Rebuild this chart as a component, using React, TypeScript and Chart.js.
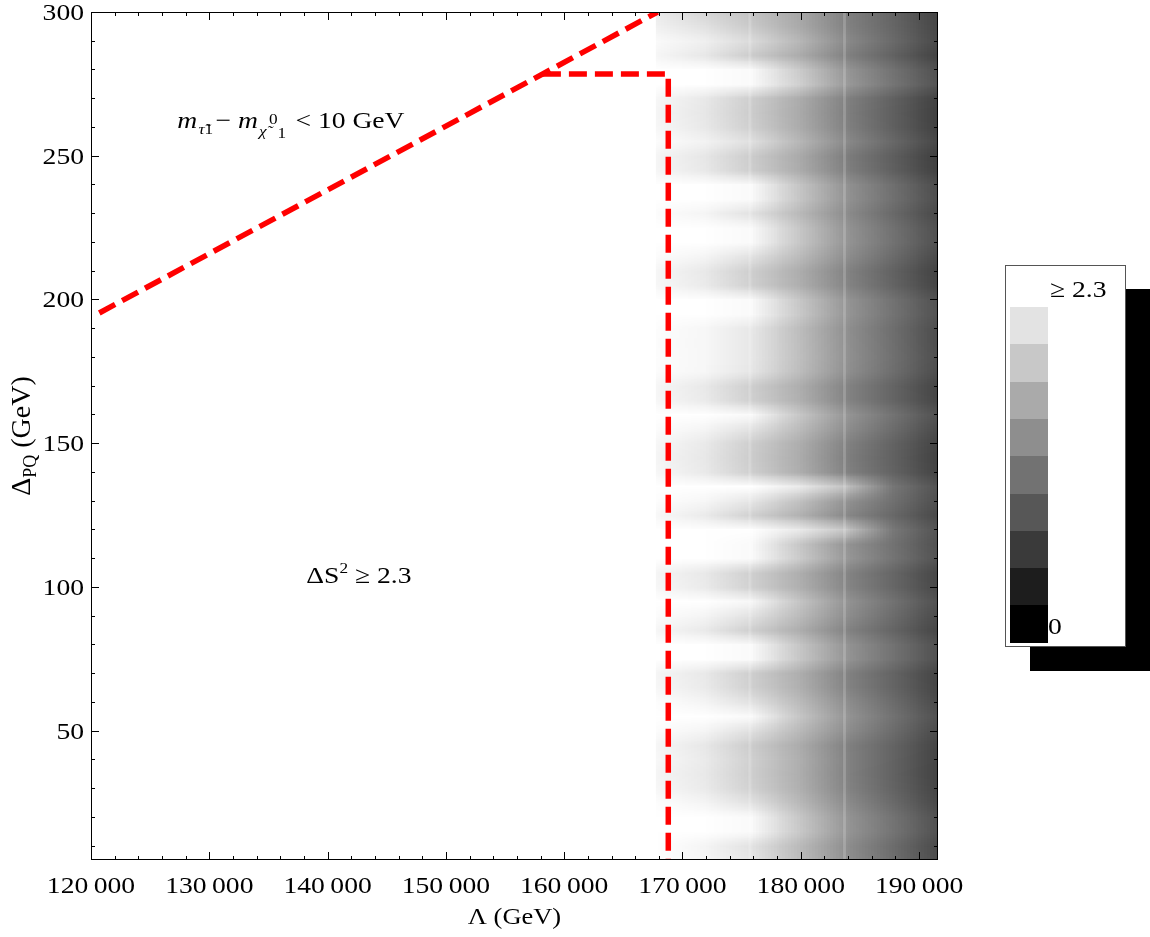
import React, { useEffect, useRef } from 'react';
import { Chart, registerables } from 'chart.js';

Chart.register(...registerables);

const SERIF = '"Liberation Serif", "Times New Roman", serif';
const STRETCH = 1.15;

// Axis ranges and tick labels
const X_MIN = 120000;
const X_MAX = 191600;
const Y_MIN = 5;
const Y_MAX = 300;
const X_TICKS = [120000, 130000, 140000, 150000, 160000, 170000, 180000, 190000];
const Y_TICKS = [50, 100, 150, 200, 250, 300];

// Density grid nodes (Λ, Δ_PQ) and ΔS² values (column by column, Δ_PQ = 5 … 300)
const GRID_X = [167700, 171700, 175700, 179700, 183700, 187700, 191700];
const GRID_Y = [5, 10, 15, 20, 25, 30, 35, 40, 45, 50, 55, 60, 65, 70, 75, 80, 85, 90, 95, 100,
  105, 110, 115, 120, 125, 130, 135, 140, 145, 150, 155, 160, 165, 170, 175, 180, 185, 190, 195, 200,
  205, 210, 215, 220, 225, 230, 235, 240, 245, 250, 255, 260, 265, 270, 275, 280, 285, 290, 295, 300];
const DATA_LEFT = 167750;

const DS2_168 = [2.50, 2.50, 2.50, 2.50, 2.48, 2.42, 2.40, 2.43, 2.41, 2.47, 2.50, 2.48, 2.42, 2.40, 2.50, 2.50, 2.41, 2.47, 2.50, 2.42,
  2.40, 2.50, 2.50, 2.50, 2.43, 2.48, 2.50, 2.42, 2.40, 2.42, 2.47, 2.50, 2.42, 2.41, 2.47, 2.48, 2.47, 2.48, 2.50, 2.50,
  2.42, 2.41, 2.47, 2.50, 2.50, 2.47, 2.50, 2.50, 2.41, 2.40, 2.47, 2.42, 2.40, 2.42, 2.50, 2.50, 2.41, 2.45, 2.36, 2.30];
const DS2_172 = [2.42, 2.40, 2.50, 2.50, 2.40, 2.30, 2.28, 2.30, 2.27, 2.40, 2.50, 2.40, 2.30, 2.28, 2.50, 2.50, 2.29, 2.40, 2.50, 2.30,
  2.28, 2.50, 2.50, 2.50, 2.30, 2.42, 2.50, 2.29, 2.27, 2.29, 2.40, 2.50, 2.30, 2.28, 2.42, 2.42, 2.42, 2.42, 2.50, 2.50,
  2.30, 2.28, 2.40, 2.50, 2.50, 2.40, 2.50, 2.50, 2.28, 2.26, 2.38, 2.28, 2.26, 2.28, 2.50, 2.50, 2.27, 2.35, 2.22, 2.10];
const DS2_176 = [2.25, 2.22, 2.45, 2.45, 2.22, 2.05, 2.02, 2.04, 2.00, 2.20, 2.45, 2.22, 2.04, 2.02, 2.45, 2.45, 2.03, 2.22, 2.42, 2.05,
  2.03, 2.45, 2.45, 2.50, 2.05, 2.25, 2.50, 2.03, 2.00, 2.02, 2.22, 2.45, 2.04, 2.02, 2.25, 2.27, 2.26, 2.27, 2.45, 2.45,
  2.04, 2.02, 2.22, 2.45, 2.45, 2.22, 2.45, 2.45, 2.02, 2.00, 2.20, 2.03, 2.00, 2.02, 2.45, 2.45, 2.00, 2.15, 1.98, 1.90];
const DS2_180 = [1.85, 1.83, 1.98, 1.96, 1.82, 1.74, 1.72, 1.73, 1.70, 1.82, 1.95, 1.84, 1.74, 1.72, 1.96, 1.95, 1.72, 1.84, 1.94, 1.74,
  1.72, 2.00, 1.96, 2.30, 1.75, 1.90, 2.30, 1.72, 1.70, 1.72, 1.84, 1.96, 1.74, 1.72, 1.86, 1.88, 1.87, 1.86, 1.98, 1.96,
  1.73, 1.71, 1.84, 1.96, 1.96, 1.82, 1.95, 1.94, 1.70, 1.68, 1.80, 1.70, 1.68, 1.70, 2.05, 2.00, 1.70, 1.80, 1.68, 1.65];
const DS2_184 = [1.42, 1.40, 1.48, 1.47, 1.38, 1.30, 1.28, 1.29, 1.27, 1.40, 1.47, 1.40, 1.30, 1.28, 1.47, 1.46, 1.29, 1.40, 1.46, 1.32,
  1.30, 1.50, 1.46, 1.95, 1.34, 1.45, 1.90, 1.28, 1.25, 1.28, 1.40, 1.48, 1.30, 1.29, 1.42, 1.44, 1.43, 1.42, 1.48, 1.47,
  1.31, 1.29, 1.40, 1.47, 1.46, 1.38, 1.45, 1.44, 1.26, 1.24, 1.36, 1.27, 1.25, 1.27, 1.52, 1.48, 1.27, 1.36, 1.28, 1.26];
const DS2_188 = [1.08, 1.06, 1.14, 1.13, 1.04, 0.98, 0.96, 0.97, 0.98, 1.06, 1.12, 1.06, 0.99, 0.98, 1.12, 1.12, 0.99, 1.06, 1.12, 1.01,
  1.00, 1.14, 1.12, 1.18, 1.02, 1.10, 1.16, 0.97, 0.95, 0.97, 1.06, 1.13, 0.99, 0.98, 1.08, 1.10, 1.09, 1.08, 1.13, 1.12,
  0.98, 0.96, 1.05, 1.12, 1.11, 1.03, 1.10, 1.09, 0.94, 0.92, 1.02, 0.94, 0.93, 0.95, 1.15, 1.12, 0.96, 1.04, 1.00, 0.98];
const DS2_192 = [0.74, 0.72, 0.78, 0.77, 0.70, 0.66, 0.64, 0.65, 0.66, 0.72, 0.77, 0.72, 0.67, 0.66, 0.77, 0.77, 0.67, 0.72, 0.77, 0.69,
  0.68, 0.79, 0.77, 0.80, 0.70, 0.75, 0.79, 0.65, 0.63, 0.65, 0.72, 0.78, 0.67, 0.66, 0.74, 0.75, 0.74, 0.74, 0.78, 0.77,
  0.66, 0.64, 0.71, 0.77, 0.76, 0.70, 0.75, 0.74, 0.62, 0.60, 0.69, 0.62, 0.61, 0.63, 0.80, 0.77, 0.64, 0.71, 0.68, 0.66];
const DS2_COLUMNS = [DS2_168, DS2_172, DS2_176, DS2_180, DS2_184, DS2_188, DS2_192];

// Red dashed boundaries
const STAU_LINE = [{ x: 120700, y: 195.3 }, { x: 167900, y: 300 }];
const DS2_BOUNDARY = [{ x: 158200, y: 278.4 }, { x: 168800, y: 278.4 }, { x: 168800, y: 5 }];

// Legend bins (top to bottom)
const LEGEND_TOP_LABEL = '≥ 2.3';
const LEGEND_BOTTOM_LABEL = '0';
const LEGEND_GRAYS = [227, 200, 170, 142, 114, 87, 58, 29, 0];

function toGray(v: number): number {
  return Math.max(0, Math.min(255, Math.round(v * 102)));
}

function fmtThousands(v: number): string {
  const s = String(Math.round(v));
  return s.length > 3 ? s.slice(0, -3) + '\u2009' + s.slice(-3) : s;
}

type Piece = { t: string; font: string; dy?: number; dx?: number };

function piecesWidth(ctx: CanvasRenderingContext2D, pieces: Piece[]) {
  let w = 0;
  for (const p of pieces) { ctx.font = p.font; w += ctx.measureText(p.t).width + (p.dx || 0); }
  return w;
}

function drawPieces(ctx: CanvasRenderingContext2D, x: number, y: number, pieces: Piece[], sx = 1, align = 'left') {
  ctx.save();
  ctx.translate(x, y);
  ctx.scale(sx, 1);
  ctx.textAlign = 'left';
  let cx = 0;
  if (align === 'center') cx = -piecesWidth(ctx, pieces) / 2;
  if (align === 'right') cx = -piecesWidth(ctx, pieces);
  for (const p of pieces) {
    ctx.font = p.font;
    cx += p.dx || 0;
    ctx.fillText(p.t, cx, p.dy || 0);
    cx += ctx.measureText(p.t).width;
  }
  ctx.restore();
}

const heatmapPlugin = {
  id: 'heatmap',
  beforeDatasetsDraw(chart: any) {
    const { ctx, chartArea, scales } = chart;
    const xs = scales.x, ys = scales.y;
    const nx = GRID_X.length, ny = GRID_Y.length;
    const off = document.createElement('canvas');
    off.width = nx; off.height = ny;
    const octx = off.getContext('2d')!;
    const img = octx.createImageData(nx, ny);
    for (let i = 0; i < nx; i++) {
      for (let j = 0; j < ny; j++) {
        const g = toGray(DS2_COLUMNS[i][j]);
        const r = ny - 1 - j;
        const k = (r * nx + i) * 4;
        img.data[k] = g; img.data[k + 1] = g; img.data[k + 2] = g; img.data[k + 3] = 255;
      }
    }
    octx.putImageData(img, 0, 0);
    const hx = (GRID_X[1] - GRID_X[0]) / 2;
    const hy = (GRID_Y[1] - GRID_Y[0]) / 2;
    const left = xs.getPixelForValue(GRID_X[0] - hx);
    const right = xs.getPixelForValue(GRID_X[nx - 1] + hx);
    const top = ys.getPixelForValue(GRID_Y[ny - 1] + hy);
    const bottom = ys.getPixelForValue(GRID_Y[0] - hy);
    const clipL = xs.getPixelForValue(DATA_LEFT);
    ctx.save();
    ctx.beginPath();
    ctx.rect(clipL, chartArea.top, chartArea.right - clipL, chartArea.bottom - chartArea.top);
    ctx.clip();
    ctx.imageSmoothingEnabled = true;
    ctx.drawImage(off, left, top, right - left, bottom - top);
    // faint mesh seams
    ctx.strokeStyle = 'rgba(255,255,255,0.18)';
    ctx.lineWidth = 3;
    [GRID_X[2], GRID_X[4]].forEach((v) => {
      const px = xs.getPixelForValue(v);
      ctx.beginPath(); ctx.moveTo(px, chartArea.top); ctx.lineTo(px, chartArea.bottom); ctx.stroke();
    });
    ctx.restore();
  },
};

const framePlugin = {
  id: 'frame',
  afterDatasetsDraw(chart: any) {
    const { ctx, chartArea, scales } = chart;
    const xs = scales.x, ys = scales.y;
    const { left, right, top, bottom } = chartArea;
    ctx.save();
    ctx.strokeStyle = '#000';
    ctx.lineWidth = 1;
    ctx.strokeRect(Math.round(left) + 0.5, Math.round(top) + 0.5, Math.round(right - left) - 1, Math.round(bottom - top) - 1);
    ctx.beginPath();
    for (let v = X_MIN; v <= X_MAX; v += 2000) {
      const px = Math.round(xs.getPixelForValue(v)) + 0.5;
      const len = v % 10000 === 0 ? 8 : 4;
      ctx.moveTo(px, bottom); ctx.lineTo(px, bottom - len);
      ctx.moveTo(px, top); ctx.lineTo(px, top + len);
    }
    for (let v = 10; v <= Y_MAX; v += 10) {
      const py = Math.round(ys.getPixelForValue(v)) + 0.5;
      const len = v % 50 === 0 ? 8 : 4;
      ctx.moveTo(left, py); ctx.lineTo(left + len, py);
      ctx.moveTo(right, py); ctx.lineTo(right - len, py);
    }
    ctx.stroke();

    // tick labels
    ctx.fillStyle = '#000';
    ctx.textBaseline = 'alphabetic';
    const tickFont = `24px ${SERIF}`;
    X_TICKS.forEach((v) => {
      drawPieces(ctx, xs.getPixelForValue(v), bottom + 33, [{ t: fmtThousands(v), font: tickFont }], STRETCH, 'center');
    });
    Y_TICKS.forEach((v) => {
      drawPieces(ctx, left - 7, ys.getPixelForValue(v) + 8, [{ t: String(v), font: tickFont }], STRETCH, 'right');
    });
    ctx.restore();
  },
};

const textPlugin = {
  id: 'texts',
  afterDraw(chart: any) {
    const { ctx, scales, chartArea } = chart;
    const xs = scales.x, ys = scales.y;
    const big = `24px ${SERIF}`;
    const bigI = `italic 24px ${SERIF}`;
    const small = `15px ${SERIF}`;
    const smallI = `italic 15px ${SERIF}`;
    ctx.save();
    ctx.fillStyle = '#000';
    ctx.textBaseline = 'alphabetic';

    // x-axis title
    drawPieces(ctx, (chartArea.left + chartArea.right) / 2, 924, [{ t: '\u039B (GeV)', font: `23px ${SERIF}` }], STRETCH, 'center');

    // m_τ̃1 − m_χ̃⁰1 < 10 GeV
    const ax = xs.getPixelForValue(127300), ay = ys.getPixelForValue(259.8);
    drawPieces(ctx, ax, ay, [
      { t: 'm', font: bigI },
      { t: '\u03C4\u0303', font: smallI, dy: 6, dx: 1 },
      { t: '1', font: small, dy: 6 },
      { t: '\u2212 ', font: big, dx: 2 },
      { t: 'm', font: bigI },
      { t: '\u03C7\u0303', font: smallI, dy: 8, dx: 1 },
      { t: '0', font: small, dy: -4, dx: 2 },
      { t: '1', font: small, dy: 10, dx: 0 },
      { t: ' < 10 GeV', font: big, dx: 2 },
    ], STRETCH);

    // ΔS² ≥ 2.3
    const bx = xs.getPixelForValue(138200), by = ys.getPixelForValue(101.3);
    drawPieces(ctx, bx, by, [
      { t: '\u0394S', font: big },
      { t: '2', font: small, dy: -10 },
      { t: ' \u2265 2.3', font: big },
    ], STRETCH);

    // y-axis title Δ_PQ (GeV)
    const yt: Piece[] = [
      { t: '\u0394', font: `28px ${SERIF}` },
      { t: 'PQ', font: `18px ${SERIF}`, dy: 6 },
      { t: ' (GeV)', font: `28px ${SERIF}` },
    ];
    ctx.save();
    ctx.translate(30, 436);
    ctx.rotate(-Math.PI / 2);
    drawPieces(ctx, 0, 0, yt, 1, 'center');
    ctx.restore();

    // Legend box with shadow
    const lx = 1005, ly = 265, lw = 120, lh = 381;
    ctx.fillStyle = '#000';
    ctx.fillRect(lx + 25, ly + 24, lw, lh + 1);
    ctx.fillStyle = '#fff';
    ctx.fillRect(lx, ly, lw, lh);
    ctx.strokeStyle = '#555';
    ctx.lineWidth = 1;
    ctx.strokeRect(lx + 0.5, ly + 0.5, lw, lh);
    const sx = 1010, sy = 307, sw = 38, sh = 37.3;
    LEGEND_GRAYS.forEach((g, i) => {
      ctx.fillStyle = `rgb(${g},${g},${g})`;
      ctx.fillRect(sx, Math.round(sy + i * sh), sw, Math.round(sy + (i + 1) * sh) - Math.round(sy + i * sh));
    });
    ctx.fillStyle = '#000';
    drawPieces(ctx, 1050, 297, [{ t: LEGEND_TOP_LABEL, font: big }], STRETCH);
    drawPieces(ctx, 1048, 634, [{ t: LEGEND_BOTTOM_LABEL, font: big }], STRETCH);
    ctx.restore();
  },
};

export default function App() {
  const ref = useRef<HTMLCanvasElement | null>(null);
  useEffect(() => {
    const canvas = ref.current!;
    const chart = new Chart(canvas, {
      type: 'scatter',
      data: {
        datasets: [
          {
            data: STAU_LINE,
            showLine: true,
            borderColor: '#ff0000',
            borderWidth: 5.5,
            borderDash: [18, 8],
            pointRadius: 0,
            fill: false,
          },
          {
            data: DS2_BOUNDARY,
            showLine: true,
            borderColor: '#ff0000',
            borderWidth: 5.5,
            borderDash: [18, 8],
            pointRadius: 0,
            fill: false,
          },
        ],
      },
      options: {
        animation: false,
        responsive: false,
        events: [],
        layout: { padding: { left: 0, top: 12, right: 212, bottom: 0 } },
        plugins: { legend: { display: false }, tooltip: { enabled: false } },
        scales: {
          x: {
            type: 'linear',
            min: X_MIN,
            max: X_MAX,
            afterFit: (s: any) => { s.height = 77; },
            afterBuildTicks: (s: any) => { s.ticks = X_TICKS.map((v) => ({ value: v })); },
            grid: { display: false, drawTicks: false },
            border: { display: false },
            ticks: { display: false },
          },
          y: {
            type: 'linear',
            min: Y_MIN,
            max: Y_MAX,
            afterFit: (s: any) => { s.width = 91; },
            afterBuildTicks: (s: any) => { s.ticks = Y_TICKS.map((v) => ({ value: v })); },
            grid: { display: false, drawTicks: false },
            border: { display: false },
            ticks: { display: false },
          },
        },
      },
      plugins: [heatmapPlugin, framePlugin, textPlugin],
    } as any);
    return () => chart.destroy();
  }, []);
  return (
    <div style={{ position: 'fixed', left: 0, top: 0, width: 1150, height: 937, background: '#fff' }}>
      <canvas ref={ref} width={1150} height={937} style={{ display: 'block' }} />
    </div>
  );
}
